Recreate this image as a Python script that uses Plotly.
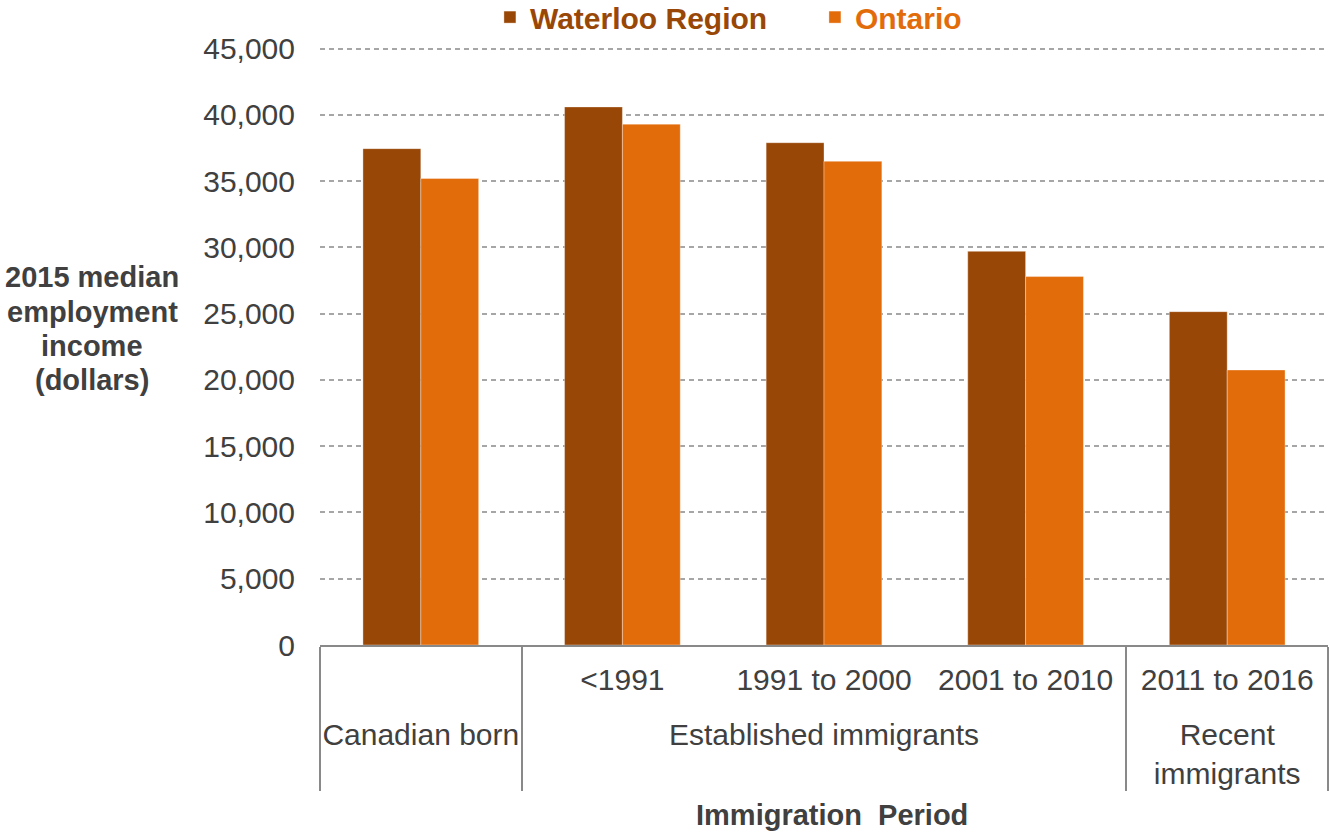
import plotly.graph_objects as go

groups = ["Canadian born", "Established immigrants", "Established immigrants",
          "Established immigrants", "Recent<br>immigrants"]
periods = [" ", "<1991", "1991 to 2000", "2001 to 2010", "2011 to 2016"]
waterloo = [37450, 40600, 37900, 29700, 25150]
ontario = [35200, 39300, 36500, 27800, 20750]
y_title_lines = ["2015 median", "employment", "income", "(dollars)"]

C_WAT = "#994706"
C_ONT = "#E36C0A"
TXT = "#404040"
FONT = "Liberation Sans, Arial, sans-serif"

# tall non-breaking spaces on both sides make the inner label row taller,
# which pushes the outer (group) row further down, as in the reference
SP = '<span style="font-size:54px">\u00a0</span>'
inner = [SP + p + SP for p in periods]

fig = go.Figure()
fig.add_trace(go.Bar(x=[groups, inner], y=waterloo,
                     name=f'<span style="color:{C_WAT}">Waterloo Region</span>',
                     marker=dict(color=C_WAT, line=dict(color="rgba(255,255,255,0.35)", width=1))))
fig.add_trace(go.Bar(x=[groups, inner], y=ontario,
                     name=f'<span style="color:{C_ONT}">Ontario</span>',
                     marker=dict(color=C_ONT, line=dict(color="rgba(255,255,255,0.35)", width=1))))

annotations = []
for i, line in enumerate(y_title_lines):
    annotations.append(dict(
        text=f"<b>{line}</b>", xref="paper", yref="paper",
        x=-0.226, y=(645 - (278 + 34.3 * i)) / 597.0,
        xanchor="center", yanchor="middle", showarrow=False,
        font=dict(family=FONT, size=29, color=TXT)))
annotations.append(dict(
    text="<b>Immigration  Period</b>", xref="paper", yref="paper",
    x=0.508, y=(645 - 815) / 597.0, xanchor="center", yanchor="middle",
    showarrow=False, font=dict(family=FONT, size=29, color=TXT)))

fig.update_layout(
    width=1330, height=833,
    margin=dict(l=320, r=2, t=47, b=188, autoexpand=False),
    paper_bgcolor="white", plot_bgcolor="white",
    barmode="group", bargap=0.426, bargroupgap=0,
    font=dict(family=FONT, size=30, color=TXT),
    showlegend=True,
    legend=dict(orientation="h", x=0.491, xanchor="center", y=1.05, yanchor="middle",
                font=dict(family=FONT, size=30, weight="bold"),
                entrywidth=280, entrywidthmode="pixels",
                bgcolor="rgba(0,0,0,0)", traceorder="normal"),
    xaxis=dict(type="multicategory", showline=True, linecolor="#898989", linewidth=2,
               showdividers=True, dividercolor="#898989", dividerwidth=2,
               ticks="", ticklabelstandoff=7, tickangle=0,
               tickfont=dict(family=FONT, size=30, color=TXT),
               showgrid=False, automargin=False),
    yaxis=dict(range=[0, 45120], tickvals=[0, 5000, 10000, 15000, 20000, 25000,
                                           30000, 35000, 40000, 45000],
               tickformat=",", showline=False,
               zeroline=False, showgrid=True, gridcolor="#A6A6A6", gridwidth=1.5,
               griddash="5px,4px", ticks="", ticklabelstandoff=24, automargin=False,
               tickfont=dict(family=FONT, size=30, color=TXT)),
    annotations=annotations,
)

fig.write_html("out.html", config={"displayModeBar": False},
               post_script="document.body.style.margin='0px';document.body.style.padding='0px';")
